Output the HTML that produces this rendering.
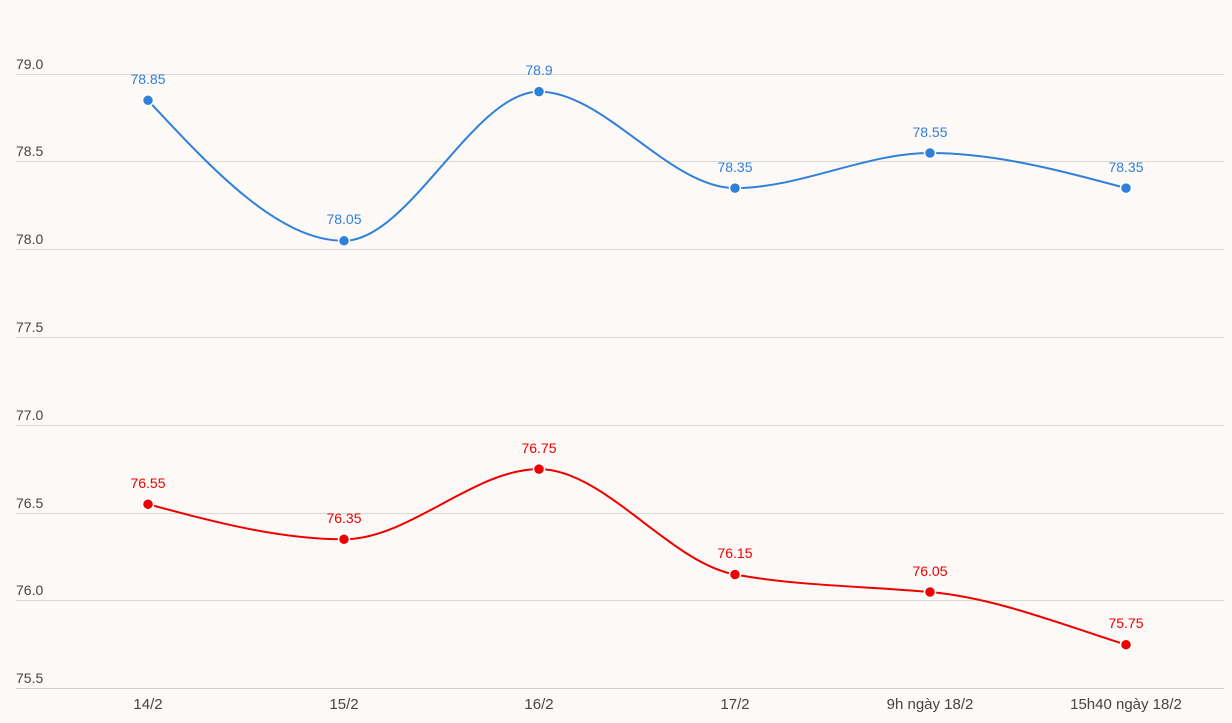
<!DOCTYPE html>
<html><head><meta charset="utf-8"><style>
html,body{margin:0;padding:0;background:#fdf9f6;}
svg{display:block;font-family:"Liberation Sans",sans-serif;}
</style></head><body>
<svg width="1232" height="723" viewBox="0 0 1232 723">
<rect width="1232" height="723" fill="#fdf9f6"/>
<g stroke="#dcd8d5" stroke-width="1">
<line x1="16" x2="1224" y1="74.5" y2="74.5"/>
<line x1="16" x2="1224" y1="161.5" y2="161.5"/>
<line x1="16" x2="1224" y1="249.5" y2="249.5"/>
<line x1="16" x2="1224" y1="337.5" y2="337.5"/>
<line x1="16" x2="1224" y1="425.5" y2="425.5"/>
<line x1="16" x2="1224" y1="513.5" y2="513.5"/>
<line x1="16" x2="1224" y1="600.5" y2="600.5"/>
<line x1="16" x2="1224" y1="688.5" y2="688.5" stroke="#ccc"/>
</g>
<g fill="#444" font-size="14">
<text x="16" y="69">79.0</text>
<text x="16" y="156">78.5</text>
<text x="16" y="244">78.0</text>
<text x="16" y="332">77.5</text>
<text x="16" y="420">77.0</text>
<text x="16" y="508">76.5</text>
<text x="16" y="595">76.0</text>
<text x="16" y="683">75.5</text>
</g>
<g fill="#444" font-size="15" text-anchor="middle">
<text x="148" y="709">14/2</text>
<text x="344" y="709">15/2</text>
<text x="539" y="709">16/2</text>
<text x="735" y="709">17/2</text>
<text x="930" y="709">9h ngày 18/2</text>
<text x="1126" y="709">15h40 ngày 18/2</text>
</g>
<path fill="none" stroke="#2f80d8" stroke-width="2" d="M148,100.3 C213.2,170.5 278.8,240.8 344,240.8 C409.2,240.8 473.8,91.6 539,91.6 C604.2,91.6 669.8,188.1 735,188.1 C800.2,188.1 865.8,153 930,153 C995.2,153 1060.8,170.6 1126,188.1"/>
<path fill="none" stroke="#e00" stroke-width="2" d="M148,504.2 C213.2,521.7 278.8,539.3 344,539.3 C409.2,539.3 473.8,469.1 539,469.1 C604.2,469.1 669.8,562.8 735,574.5 C800.2,586.2 865.8,586.2 930,592 C995.2,597.8 1060.8,624.2 1126,644.7"/>
<g fill="#2f80d8" stroke="#fff" stroke-width="1.5">
<circle cx="148" cy="100.3" r="5.5"/><circle cx="344" cy="240.8" r="5.5"/><circle cx="539" cy="91.6" r="5.5"/><circle cx="735" cy="188.1" r="5.5"/><circle cx="930" cy="153" r="5.5"/><circle cx="1126" cy="188.1" r="5.5"/>
</g>
<g fill="#e00" stroke="#fff" stroke-width="1.5">
<circle cx="148" cy="504.2" r="5.5"/><circle cx="344" cy="539.3" r="5.5"/><circle cx="539" cy="469.1" r="5.5"/><circle cx="735" cy="574.5" r="5.5"/><circle cx="930" cy="592" r="5.5"/><circle cx="1126" cy="644.7" r="5.5"/>
</g>
<g fill="#2f80d8" font-size="14" text-anchor="middle">
<text x="148" y="84">78.85</text><text x="344" y="224">78.05</text><text x="539" y="75">78.9</text><text x="735" y="172">78.35</text><text x="930" y="137">78.55</text><text x="1126" y="172">78.35</text>
</g>
<g fill="#e00" font-size="14" text-anchor="middle">
<text x="148" y="488">76.55</text><text x="344" y="523">76.35</text><text x="539" y="453">76.75</text><text x="735" y="558">76.15</text><text x="930" y="576">76.05</text><text x="1126" y="628">75.75</text>
</g>
</svg>
</body></html>
